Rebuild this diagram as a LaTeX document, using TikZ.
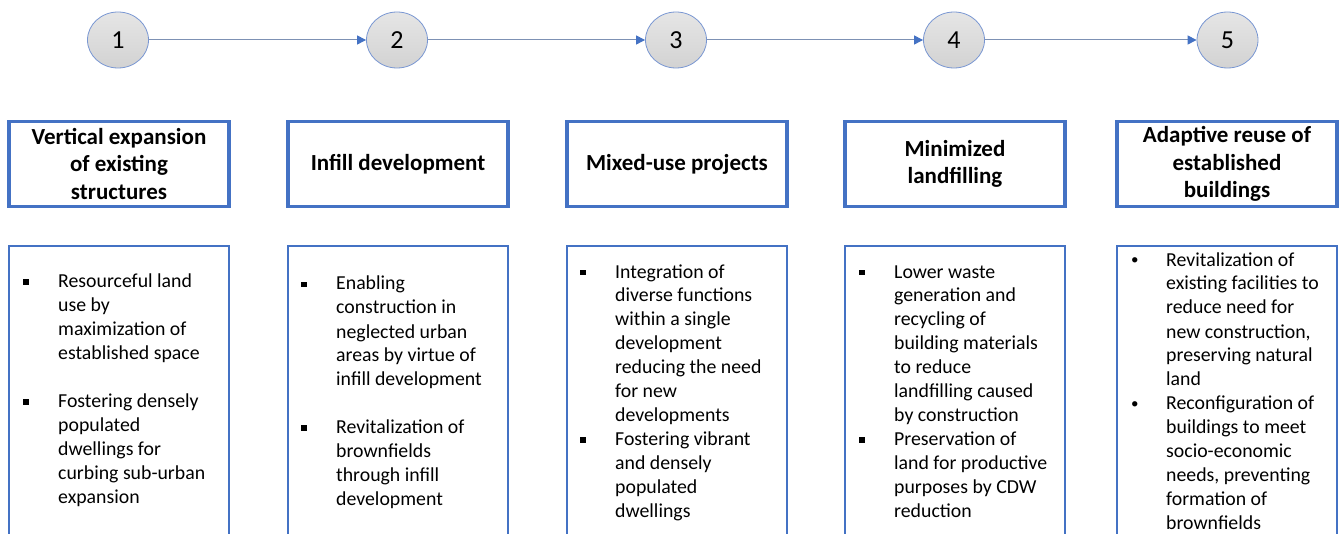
\documentclass[tikz,border=0pt]{standalone}
\usepackage{fontspec}
\setmainfont{Carlito}
\usepackage{array}
\usepackage{graphicx}
\usetikzlibrary{positioning,shapes.geometric,arrows.meta}
\definecolor{boxblue}{RGB}{68,114,196}
\definecolor{rimblue}{RGB}{120,150,210}
\definecolor{linegray}{RGB}{125,145,180}
\newcommand{\sqb}{\rule[3pt]{5.5pt}{5.5pt}}
\newcommand{\rdb}{\raisebox{1pt}{\fontsize{15}{15}\selectfont\textbullet}}

\begin{document}
\begin{tikzpicture}[x=1pt, y=-1pt,
  stage/.style={ellipse, draw=rimblue, line width=0.8pt, minimum width=61pt, minimum height=56pt,
    top color=gray!20, bottom color=gray!35, inner sep=0pt, font=\fontsize{26}{30}\selectfont},
  head/.style={draw=boxblue, line width=3.5pt, minimum width=220pt, minimum height=85pt,
    align=center, inner sep=0pt, font=\bfseries\fontsize{23}{27.5}\selectfont},
  panel/.style={draw=boxblue, line width=2pt, minimum width=220pt, minimum height=310pt, anchor=north},
  detail/.style={inner sep=0pt, font=\fontsize{19.8}{24}\selectfont},
  flow/.style={draw=linegray, line width=1pt, -{Triangle[length=9pt, width=9pt, color=boxblue]}}]
\useasboundingbox (0,0) rectangle (1339,534);
% stages
\node[stage] (c1) at (118,40) {1};
\node[stage] (c2) at (397,40) {2};
\node[stage] (c3) at (676,40) {3};
\node[stage] (c4) at (954,40) {4};
\node[stage] (c5) at (1227.5,40) {5};
\draw[flow] (c1) -- (c2);
\draw[flow] (c2) -- (c3);
\draw[flow] (c3) -- (c4);
\draw[flow] (c4) -- (c5);
% titles
\node[head] (h1) at (119,164) {Vertical expansion\\of existing\\structures};
\node[head] (h2) at (398,164) {Infill development};
\node[head] (h3) at (677,164) {Mixed-use projects};
\node[head] (h4) at (955,164) {Minimized\\landfilling};
\node[head] (h5) at (1227,164) {Adaptive reuse of\\established\\buildings};
% panels
\node[panel] (d1) at (119,245) {};
\node[panel] (d2) at (398,245) {};
\node[panel] (d3) at (677,245) {};
\node[panel] (d4) at (955,245) {};
\node[panel] (d5) at (1227,245) {};
\node[detail, below right=26pt and 15pt of d1.north west] (t1) {\begin{tabular}{@{}p{35pt}@{}l@{}}
\sqb & Resourceful land\\
 & use by\\
 & maximization of\\
 & established space\\
 & \\
\sqb & Fostering densely\\
 & populated\\
 & dwellings for\\
 & curbing sub-urban\\
 & expansion
\end{tabular}};
\node[detail, below right=28pt and 14pt of d2.north west] (t2) {\begin{tabular}{@{}p{35pt}@{}l@{}}
\sqb & Enabling\\
 & construction in\\
 & neglected urban\\
 & areas by virtue of\\
 & infill development\\
 & \\
\sqb & Revitalization of\\
 & brownfields\\
 & through infill\\
 & development
\end{tabular}};
\node[detail, below right=16pt and 14pt of d3.north west] (t3) {\begin{tabular}{@{}p{35pt}@{}l@{}}
\sqb & Integration of\\
 & diverse functions\\
 & within a single\\
 & development\\
 & reducing the need\\
 & for new\\
 & developments\\
\sqb & Fostering vibrant\\
 & and densely\\
 & populated\\
 & dwellings
\end{tabular}};
\node[detail, below right=16pt and 15pt of d4.north west] (t4) {\begin{tabular}{@{}p{35pt}@{}l@{}}
\sqb & Lower waste\\
 & generation and\\
 & recycling of\\
 & building materials\\
 & to reduce\\
 & landfilling caused\\
 & by construction\\
\sqb & Preservation of\\
 & land for productive\\
 & purposes by CDW\\
 & reduction
\end{tabular}};
\node[detail, below right=4pt and 15pt of d5.north west] (t5) {\begin{tabular}{@{}p{35pt}@{}l@{}}
\rdb & Revitalization of\\
 & existing facilities to\\
 & reduce need for\\
 & new construction,\\
 & preserving natural\\
 & land\\
\rdb & Reconfiguration of\\
 & buildings to meet\\
 & socio-economic\\
 & needs, preventing\\
 & formation of\\
 & brownfields
\end{tabular}};
\end{tikzpicture}
\end{document}
